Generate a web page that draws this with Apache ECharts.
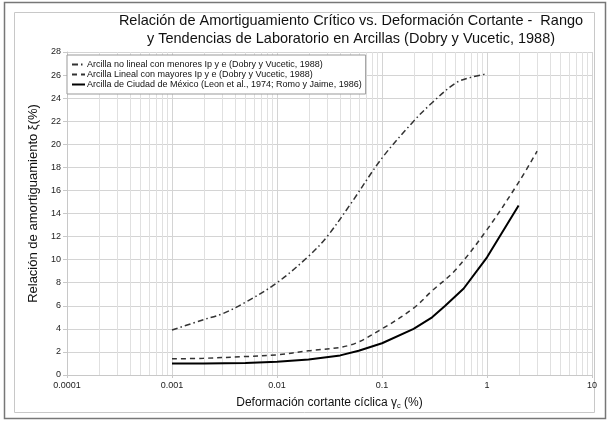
<!DOCTYPE html>
<html>
<head>
<meta charset="utf-8">
<script src="https://cdn.jsdelivr.net/npm/echarts@6/dist/echarts.min.js"></script>
<style>html,body{margin:0;padding:0;background:#fff}#c{width:607px;height:423px}</style>
</head>
<body>
<div id="c"></div>
<script>
// Data
const seriesNames = [
  'Arcilla no lineal con menores Ip y e (Dobry y Vucetic, 1988)',
  'Arcilla Lineal con mayores Ip y e (Dobry y Vucetic, 1988)',
  'Arcilla de Ciudad de México (Leon et al., 1974; Romo y Jaime, 1986)'
];
const strainNL = [0.001, 0.002, 0.003, 0.005, 0.01, 0.02, 0.03, 0.05, 0.1, 0.2, 0.3, 0.5, 0.7, 1];
const dampNL   = [3.9, 4.8, 5.3, 6.3, 8.0, 10.3, 12.0, 14.8, 18.8, 22.0, 23.6, 25.3, 25.8, 26.1];
const strainL  = [0.001, 0.002, 0.005, 0.01, 0.02, 0.05, 0.1, 0.2, 0.3, 0.5, 1, 2, 3];
const dampL    = [1.4, 1.45, 1.6, 1.75, 2.1, 2.6, 4.0, 5.8, 7.3, 9.1, 12.6, 16.7, 19.4];
const strainM  = [0.001, 0.002, 0.005, 0.01, 0.02, 0.04, 0.06, 0.1, 0.2, 0.3, 0.4, 0.6, 1, 2];
const dampM    = [1.0, 1.0, 1.05, 1.15, 1.35, 1.7, 2.1, 2.75, 4.0, 5.0, 6.0, 7.5, 10.2, 14.7];
const xTickLabels = ['0.0001', '0.001', '0.01', '0.1', '1', '10'];
const minorMultipliers = [2, 3, 4, 5, 6, 7, 8, 9];
const decadeStarts = [0.0001, 0.001, 0.01, 0.1, 1];
const yMin = 0, yMax = 28;

const pair = (xs, ys) => xs.map((x, i) => [x, ys[i]]);
const minorValues = [];
decadeStarts.forEach(d => minorMultipliers.forEach(m => minorValues.push(+(d * m).toPrecision(3))));

const FONT = 'Liberation Sans, Arial, sans-serif';
const chart = echarts.init(document.getElementById('c'), null, { renderer: 'canvas' });
chart.setOption({
  animation: false,
  backgroundColor: '#fff',
  textStyle: { fontFamily: FONT },
  graphic: [
    { type: 'rect', shape: { x: 4.5, y: 2.5, width: 601, height: 416 }, style: { fill: 'none', stroke: '#777', lineWidth: 1.5 }, z: -10 },
    { type: 'rect', shape: { x: 14.5, y: 12.5, width: 580, height: 400 }, style: { fill: 'none', stroke: '#c8c8c8', lineWidth: 1 }, z: -10 }
  ],
  title: {
    text: 'Relación de Amortiguamiento Crítico vs. Deformación Cortante -  Rango\ny Tendencias de Laboratorio en Arcillas (Dobry y Vucetic, 1988)',
    left: 346, top: 7, textAlign: 'center',
    textStyle: { fontFamily: FONT, fontSize: 14.5, fontWeight: 'normal', color: '#111', lineHeight: 18 }
  },
  legend: {
    data: seriesNames,
    orient: 'vertical', left: 67, top: 55,
    itemWidth: 13, itemHeight: 8, itemGap: 1,
    padding: [5, 4], borderColor: '#999', borderWidth: 1, backgroundColor: '#fff',
    itemStyle: { opacity: 0 },
    textStyle: { fontFamily: FONT, fontSize: 9, color: '#111', padding: [0, 0, 0, -3] },
    z: 10
  },
  grid: { left: 67, right: 15, top: 52, bottom: 48 },
  xAxis: {
    type: 'log', logBase: 10, min: 0.0001, max: 10,
    name: 'Deformación cortante cíclica γ{s|c} (%)',
    nameLocation: 'middle', nameGap: 20,
    nameTextStyle: { fontFamily: FONT, fontSize: 12, color: '#111', rich: { s: { fontSize: 7.5, verticalAlign: 'bottom', padding: [7, 0, 0, 0] } } },
    axisLine: { lineStyle: { color: '#c8c8c8' } },
    axisTick: { show: true, length: 3, lineStyle: { color: '#c8c8c8' } },
    axisLabel: {
      fontFamily: FONT, fontSize: 9, color: '#222', margin: 6,
      formatter: v => { const i = Math.round(Math.log10(v)) + 4; return xTickLabels[i] !== undefined ? xTickLabels[i] : ''; }
    },
    splitLine: { show: true, lineStyle: { color: '#d4d4d4', width: 1 } }
  },
  yAxis: {
    type: 'value', min: yMin, max: yMax, interval: 2,
    name: 'Relación de amortiguamiento ξ(%)',
    nameLocation: 'middle', nameGap: 26, nameRotate: 90,
    nameTextStyle: { fontFamily: FONT, fontSize: 13, color: '#111', padding: [0, 0, 0, 20] },
    axisLine: { show: true, lineStyle: { color: '#c8c8c8' } },
    axisTick: { show: true, length: 4, lineStyle: { color: '#c8c8c8' } },
    axisLabel: { fontFamily: FONT, fontSize: 9, color: '#222', margin: 6 },
    splitLine: { show: true, lineStyle: { color: '#d4d4d4', width: 1 } }
  },
  series: [
    {
      name: '_minor', type: 'custom', silent: true, z: 0,
      data: minorValues.map(v => [v]),
      encode: { x: 0 },
      renderItem: (params, api) => {
        const v = api.value(0);
        const p0 = api.coord([v, yMin]);
        const p1 = api.coord([v, yMax]);
        return { type: 'line', shape: { x1: Math.round(p0[0]) + 0.5, y1: p0[1], x2: Math.round(p1[0]) + 0.5, y2: p1[1] },
          style: { stroke: '#e0e0e0', lineWidth: 1 } };
      }
    },
    {
      name: seriesNames[0], type: 'line', data: pair(strainNL, dampNL), smooth: 0.35,
      symbol: 'none', lineStyle: { color: '#333', width: 1.5, type: [6, 3, 1.5, 3] }, itemStyle: { color: '#333' }, z: 3
    },
    {
      name: seriesNames[1], type: 'line', data: pair(strainL, dampL), smooth: 0.35,
      symbol: 'none', lineStyle: { color: '#333', width: 1.5, type: [5, 4] }, itemStyle: { color: '#333' }, z: 3
    },
    {
      name: seriesNames[2], type: 'line', data: pair(strainM, dampM), smooth: false,
      symbol: 'none', lineStyle: { color: '#000', width: 2, type: 'solid' }, itemStyle: { color: '#000' }, z: 3
    }
  ]
});
</script>
</body>
</html>
